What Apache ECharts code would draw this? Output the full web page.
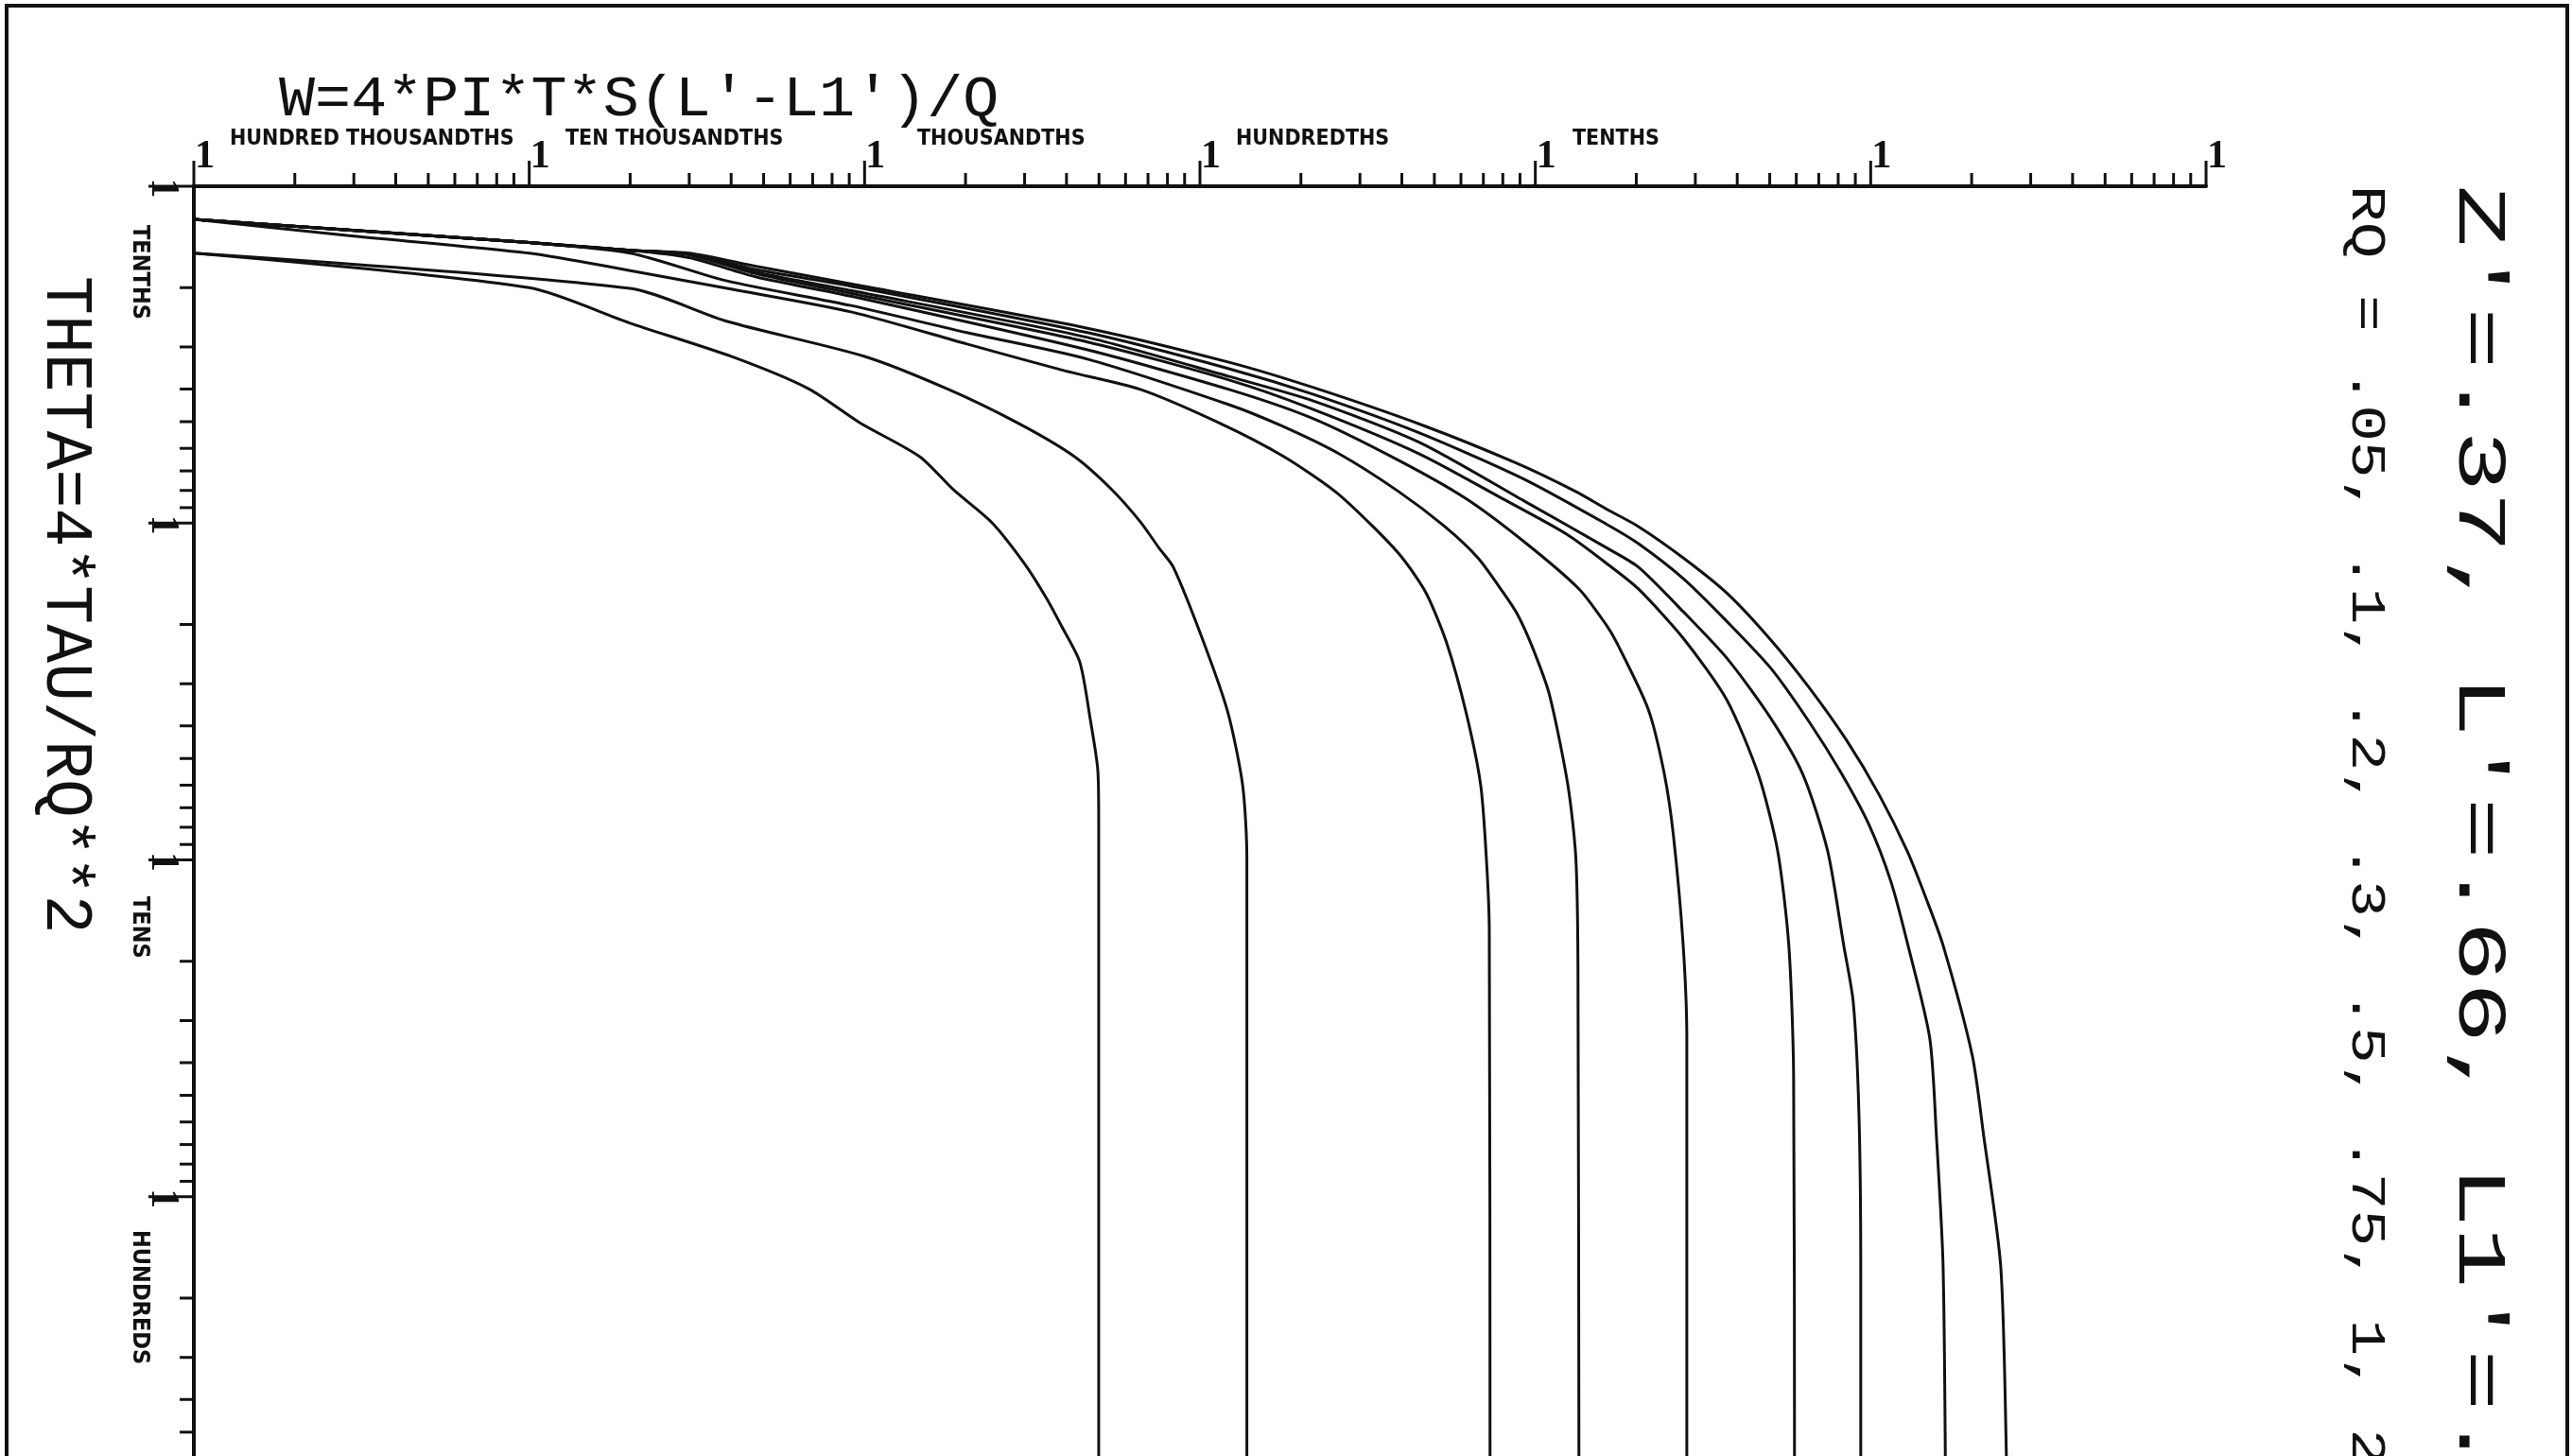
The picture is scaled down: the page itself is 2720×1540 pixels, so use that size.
<!DOCTYPE html>
<html><head><meta charset="utf-8">
<script src="https://cdn.jsdelivr.net/npm/echarts@6/dist/echarts.min.js"></script>
<style>html,body{margin:0;padding:0;background:#fff}#c{width:2720px;height:1540px}</style>
</head><body><div id="c"></div>
<script>
// ---- axis / tick data ----
const xDecades = [1e-5, 1e-4, 1e-3, 1e-2, 1e-1, 1, 10];
const yDecades = [0.1, 1, 10, 100, 1000];
const minorMultipliers = [2, 3, 4, 5, 6, 7, 8, 9];
const majorTickLabel = '1';
const xDecadeNames = ['HUNDRED THOUSANDTHS', 'TEN THOUSANDTHS', 'THOUSANDTHS', 'HUNDREDTHS', 'TENTHS'];
const yDecadeNames = ['TENTHS', 'TENS', 'HUNDREDS'];
const titleText = "W=4*PI*T*S(L'-L1')/Q";
const yTitleText = "THETA=4*TAU/RQ**2";
const noteText1 = "Z'=.37, L'=.66, L1'=.3";
const noteText2 = "RQ = .05, .1, .2, .3, .5, .75, 1, 2";

// ---- curves: [W, THETA] ----
const curve1 = [[1e-5,0.158],[1.0e-4,0.200],[2.0e-4,0.255],[4.0e-4,0.320],[6.8e-4,0.399],[9.66e-4,0.503],[1.46e-3,0.635],[1.84e-3,0.796],[2.40e-3,0.998],[3.01e-3,1.327],[3.49e-3,1.674],[3.85e-3,2.006],[4.38e-3,2.58],[4.71e-3,3.83],[4.96e-3,5.43],[4.99e-3,7.64],[4.99e-3,1000]];
const curve2 = [[1e-5,0.158],[2.0e-4,0.201],[3.9e-4,0.252],[1.0e-3,0.320],[1.78e-3,0.401],[2.88e-3,0.506],[4.19e-3,0.631],[5.43e-3,0.791],[6.64e-3,0.991],[7.56e-3,1.188],[8.33e-3,1.352],[1.02e-2,2.225],[1.21e-2,3.635],[1.34e-2,5.98],[1.38e-2,9.77],[1.38e-2,1000]];
const curve3 = [[1e-5,0.1254],[2.86e-5,0.140],[1.0e-4,0.158],[2.0e-4,0.178],[4.0e-4,0.202],[9.11e-4,0.236],[2.02e-3,0.294],[3.95e-3,0.353],[6.64e-3,0.401],[1.15e-2,0.506],[1.78e-2,0.635],[2.53e-2,0.806],[3.28e-2,1.024],[4.01e-2,1.268],[4.72e-2,1.61],[5.44e-2,2.268],[6.21e-2,3.635],[6.87e-2,5.98],[7.14e-2,9.77],[7.29e-2,16.07],[7.33e-2,1000]];
const curve4 = [[1e-5,0.1254],[1.0e-4,0.147],[2.0e-4,0.158],[3.89e-4,0.191],[9.11e-4,0.226],[2.02e-3,0.272],[4.62e-3,0.326],[1.22e-2,0.445],[1.74e-2,0.513],[2.60e-2,0.623],[3.91e-2,0.806],[5.37e-2,1.024],[6.74e-2,1.268],[8.03e-2,1.61],[8.85e-2,1.868],[9.76e-2,2.312],[0.110,3.215],[0.125,5.98],[0.132,9.77],[0.134,20.55],[0.135,1000]];
const curve5 = [[1e-5,0.1254],[1.0e-4,0.147],[2.0e-4,0.155],[3.0e-4,0.163],[4.76e-4,0.186],[9.11e-4,0.212],[4.62e-3,0.306],[1.22e-2,0.401],[2.18e-2,0.490],[3.91e-2,0.651],[6.19e-2,0.844],[9.26e-2,1.136],[0.135,1.569],[0.162,1.993],[0.175,2.268],[0.217,3.565],[0.242,5.50],[0.258,8.43],[0.276,17.94],[0.283,34.2],[0.283,1000]];
const curve6 = [[1e-5,0.1254],[1.0e-4,0.147],[2.0e-4,0.155],[3.0e-4,0.160],[4.76e-4,0.182],[9.11e-4,0.208],[4.62e-3,0.290],[1.22e-2,0.376],[2.18e-2,0.460],[4.51e-2,0.623],[8.03e-2,0.849],[0.124,1.079],[0.166,1.335],[0.203,1.569],[0.276,2.196],[0.372,3.342],[0.463,5.60],[0.528,9.40],[0.570,17.94],[0.589,43.2],[0.593,1000]];
const curve7 = [[1e-5,0.1254],[1.0e-4,0.147],[2.0e-4,0.155],[3.0e-4,0.159],[4.76e-4,0.180],[9.11e-4,0.204],[4.62e-3,0.281],[1.22e-2,0.367],[2.18e-2,0.434],[4.51e-2,0.576],[9.26e-2,0.860],[0.164,1.188],[0.203,1.352],[0.276,1.832],[0.374,2.531],[0.504,3.803],[0.629,5.60],[0.744,9.40],[0.831,17.94],[0.887,26.4],[0.922,55.6],[0.934,161],[0.934,1000]];
const curve8 = [[1e-5,0.1254],[1.0e-4,0.147],[2.0e-4,0.155],[3.0e-4,0.159],[4.76e-4,0.177],[9.11e-4,0.198],[4.62e-3,0.272],[1.22e-2,0.348],[2.18e-2,0.415],[4.51e-2,0.540],[9.26e-2,0.741],[0.164,1.011],[0.203,1.151],[0.276,1.461],[0.374,1.967],[0.504,2.70],[0.654,3.88],[0.815,5.50],[0.990,7.89],[1.150,11.63],[1.292,17.94],[1.500,33.8],[1.570,65.8],[1.644,161],[1.675,1000]];
const curve9 = [[1e-5,0.1254],[1.0e-4,0.147],[2.0e-4,0.155],[3.0e-4,0.158],[4.76e-4,0.173],[9.11e-4,0.195],[4.62e-3,0.264],[1.22e-2,0.333],[2.18e-2,0.396],[4.63e-2,0.513],[8.79e-2,0.664],[0.132,0.806],[0.164,0.912],[0.203,1.024],[0.276,1.268],[0.374,1.620],[0.504,2.225],[0.654,3.073],[0.847,4.413],[1.057,6.377],[1.284,9.398],[1.462,12.99],[1.644,17.94],[2.010,38.2],[2.172,65.8],[2.442,161],[2.539,588],[2.55,1000]];
const curves = [curve1, curve2, curve3, curve4, curve5, curve6, curve7, curve8, curve9];

// ---- build tick tables ----
const xTicks = [];
xDecades.forEach((d, i) => {
  xTicks.push([d, yDecades[0], 1]);
  if (i < xDecades.length - 1) minorMultipliers.forEach(m => xTicks.push([d * m, yDecades[0], 0]));
});
const yTicks = [];
yDecades.forEach((d, i) => {
  yTicks.push([xDecades[0], d, 1]);
  if (i < yDecades.length - 1) minorMultipliers.forEach(m => yTicks.push([xDecades[0], d * m, 0]));
});

const INK = '#111';
const oneFont = 'bold 42px "Liberation Serif"';

function renderXTick(params, api) {
  const major = api.value(2);
  const p = api.coord([api.value(0), api.value(1)]);
  const len = major ? 27 : 14;
  const ch = [{ type: 'line', shape: { x1: p[0], y1: p[1], x2: p[0], y2: p[1] - len }, style: { stroke: INK, lineWidth: 3 } }];
  if (major) ch.push({ type: 'text', x: p[0] + 1, y: p[1] - 31,
    style: { text: majorTickLabel, font: oneFont, fill: INK, align: 'left', textAlign: 'left', verticalAlign: 'middle', textVerticalAlign: 'middle' } });
  return { type: 'group', children: ch };
}
function renderYTick(params, api) {
  const major = api.value(2);
  const p = api.coord([api.value(0), api.value(1)]);
  const len = major ? 48 : 15;
  const ch = [{ type: 'line', shape: { x1: p[0], y1: p[1], x2: p[0] - len, y2: p[1] }, style: { stroke: INK, lineWidth: 3 } }];
  if (major) ch.push({ type: 'text', x: p[0] - 33, y: p[1] + 2, rotation: -Math.PI / 2,
    style: { text: majorTickLabel, font: oneFont, fill: INK, align: 'center', textAlign: 'center', verticalAlign: 'middle', textVerticalAlign: 'middle' } });
  return { type: 'group', children: ch };
}

function txt(text, x, y, font, opts) {
  opts = opts || {};
  return Object.assign({ type: 'text', x: x, y: y, silent: true,
    style: { text: text, font: font, fill: INK, align: opts.align || 'left', textAlign: opts.align || 'left',
      verticalAlign: 'middle', textVerticalAlign: 'middle' } }, opts.el || {});
}
const decFont = 'bold 23px "DejaVu Sans Condensed"';
const decFontY = 'bold 25px "DejaVu Sans Condensed"';
const xDecLeft = [243, 598, 970, 1307, 1663];
const yDecTop = [238, 948, 1301];
const cw = -Math.PI / 2;

const graphics = [
  { type: 'rect', silent: true, shape: { x: 7, y: 6, width: 2708, height: 1700 }, style: { fill: 'none', stroke: INK, lineWidth: 4 } },
  txt(titleText, 295, 106, '61px "Liberation Mono"', { el: { scaleX: 1.04 } }),
  txt(yTitleText, 69, 292, '70px "Liberation Mono"', { el: { rotation: cw, scaleX: 0.974 } }),
  txt(noteText1, 2620, 196, '72px "Liberation Mono"', { el: { rotation: cw, scaleX: 1.5 } }),
  txt(noteText2, 2502, 196, '52px "Liberation Mono"', { el: { rotation: cw, scaleX: 1.24 } })
];
xDecadeNames.forEach((n, i) => graphics.push(txt(n, xDecLeft[i], 147, decFont)));
yDecadeNames.forEach((n, i) => graphics.push(txt(n, 147, yDecTop[i], decFontY, { el: { rotation: cw } })));

const chart = echarts.init(document.getElementById('c'), null, { renderer: 'canvas', width: 2720, height: 1540 });
chart.setOption({
  animation: false,
  backgroundColor: '#fff',
  grid: { left: 205, right: 387, top: 197, bottom: -82, containLabel: false, outerBoundsMode: 'none' },
  xAxis: { type: 'log', logBase: 10, min: 1e-5, max: 10, position: 'top',
    axisLine: { show: true, onZero: false, lineStyle: { color: INK, width: 4 } },
    axisTick: { show: false }, axisLabel: { show: false }, splitLine: { show: false }, minorTick: { show: false } },
  yAxis: { type: 'log', logBase: 10, min: 0.1, max: 1000, inverse: true,
    axisLine: { show: true, onZero: false, lineStyle: { color: INK, width: 4 } },
    axisTick: { show: false }, axisLabel: { show: false }, splitLine: { show: false }, minorTick: { show: false } },
  series: curves.map((c, i) => ({ type: 'line', name: 'c' + (i + 1), data: c, symbol: 'none', showSymbol: false, silent: true,
    smooth: 0.25, lineStyle: { color: INK, width: 3 }, z: 3 })).concat([
    { type: 'custom', data: xTicks, renderItem: renderXTick, clip: false, silent: true, z: 4 },
    { type: 'custom', data: yTicks, renderItem: renderYTick, clip: false, silent: true, z: 4 }
  ]),
  graphic: { elements: graphics }
});
</script></body></html>
